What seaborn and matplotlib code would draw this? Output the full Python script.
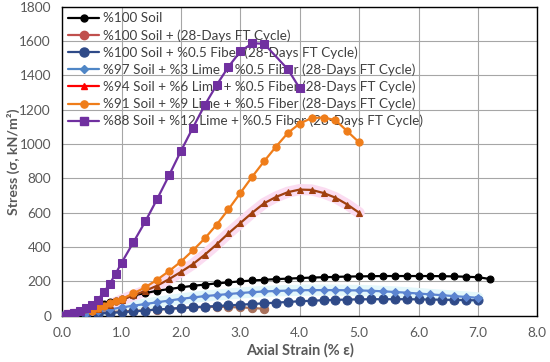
import matplotlib
matplotlib.use("Agg")
import matplotlib.pyplot as plt
import numpy as np
import pandas as pd
import seaborn as sns

# strain (%) / stress (kN/m2) per mixture
X_SOIL = [0.0, 0.1, 0.2, 0.3, 0.4, 0.5, 0.6, 0.7, 0.8, 0.9, 1.0, 1.2, 1.4, 1.6, 1.8, 2.0,
          2.2, 2.4, 2.6, 2.8, 3.0, 3.2, 3.4, 3.6, 3.8, 4.0, 4.2, 4.4, 4.6, 4.8, 5.0,
          5.2, 5.4, 5.6, 5.8, 6.0, 6.2, 6.4, 6.6, 6.8, 7.0, 7.2]
Y_SOIL = [0, 10, 18, 28, 38, 48, 58, 68, 78, 88, 97, 118, 132, 145, 155, 165,
          174, 181, 188, 194, 200, 205, 209, 213, 216, 219, 222, 224, 226, 228, 229,
          230, 231, 231, 231, 231, 231, 230, 229, 227, 224, 214]

X_FT = [0.0, 0.2, 0.4, 0.6, 0.8, 1.0, 1.2, 1.4, 1.6, 1.8, 2.0, 2.2, 2.4, 2.6, 2.8, 3.0, 3.2, 3.4]
Y_FT = [0, 6, 12, 17, 21, 25, 28, 31, 35, 40, 45, 48, 50, 52, 50, 48, 45, 40]

X_FIB = [0.0, 0.2, 0.4, 0.6, 0.8, 1.0, 1.2, 1.4, 1.6, 1.8, 2.0, 2.2, 2.4, 2.6, 2.8, 3.0,
         3.2, 3.4, 3.6, 3.8, 4.0, 4.2, 4.4, 4.6, 4.8, 5.0, 5.2, 5.4, 5.6, 5.8, 6.0,
         6.2, 6.4, 6.6, 6.8, 7.0]
Y_FIB = [0, 4, 8, 12, 16, 20, 25, 30, 36, 40, 45, 49, 53, 56, 60, 64,
         68, 72, 76, 80, 84, 87, 90, 92, 94, 95, 96, 96, 96, 96, 95,
         94, 93, 92, 91, 89]

X_L3 = [0.0, 0.2, 0.4, 0.6, 0.8, 1.0, 1.2, 1.4, 1.6, 1.8, 2.0, 2.2, 2.4, 2.6, 2.8, 3.0,
        3.2, 3.4, 3.6, 3.8, 4.0, 4.2, 4.4, 4.6, 4.8, 5.0, 5.2, 5.4, 5.6, 5.8, 6.0,
        6.2, 6.4, 6.6, 6.8, 7.0]
Y_L3 = [0, 8, 16, 26, 36, 48, 58, 68, 78, 88, 98, 106, 114, 120, 126, 132,
        137, 141, 144, 146, 148, 149, 149, 149, 148, 147, 145, 142, 138, 134, 129,
        124, 119, 114, 109, 104]

X_L6 = [0.0, 0.5, 0.6, 0.8, 1.0, 1.2, 1.4, 1.6, 1.8, 2.0, 2.2, 2.4, 2.6, 2.8, 3.0,
        3.2, 3.4, 3.6, 3.8, 4.0, 4.2, 4.4, 4.6, 4.8, 5.0]
Y_L6 = [0, 25, 40, 62, 92, 118, 145, 175, 213, 255, 300, 355, 415, 480, 540,
        600, 655, 692, 720, 735, 733, 715, 688, 648, 600]

X_L9 = [0.0, 0.5, 0.6, 0.7, 0.8, 0.9, 1.0, 1.2, 1.4, 1.6, 1.8, 2.0, 2.2, 2.4, 2.6, 2.8, 3.0,
        3.2, 3.4, 3.6, 3.8, 4.0, 4.2, 4.4, 4.6, 4.8, 5.0]
Y_L9 = [0, 28, 45, 58, 72, 85, 97, 130, 165, 210, 260, 315, 380, 450, 530, 620, 715,
        810, 900, 985, 1065, 1120, 1152, 1155, 1140, 1075, 1010]

X_L12 = [0.0, 0.1, 0.2, 0.3, 0.4, 0.5, 0.6, 0.7, 0.8, 0.9, 1.0, 1.2, 1.4, 1.6, 1.8, 2.0,
         2.2, 2.4, 2.6, 2.8, 3.0, 3.2, 3.4, 3.8, 4.0]
Y_L12 = [0, 8, 15, 25, 42, 62, 93, 136, 185, 244, 308, 428, 549, 680, 818, 960,
         1095, 1227, 1344, 1451, 1540, 1588, 1585, 1436, 1325]

LABELS = [
    "%100 Soil",
    "%100 Soil + (28-Days FT Cycle)",
    "%100 Soil + %0.5 Fiber (28-Days FT Cycle)",
    "%97 Soil + %3 Lime + %0.5 Fiber (28-Days FT Cycle)",
    "%94 Soil + %6 Lime + %0.5 Fiber (28-Days FT Cycle)",
    "%91 Soil + %9 Lime + %0.5 Fiber (28-Days FT Cycle)",
    "%88 Soil + %12 Lime + %0.5 Fiber (28-Days FT Cycle)",
]
SERIES = [(X_SOIL, Y_SOIL), (X_FT, Y_FT), (X_FIB, Y_FIB), (X_L3, Y_L3),
          (X_L6, Y_L6), (X_L9, Y_L9), (X_L12, Y_L12)]

# (line colour as drawn, legend colour, marker, marker size, faint halo or None)
STYLES = [
    ("black", "black", "o", 5, None),
    ("#a8705a", "#c0504d", "o", 6, None),
    ("#2f4a88", "#2f4a88", "o", 6.5, None),
    ("#5b84d0", "#4f86c6", "D", 4.2, "#e3f7fb"),
    ("#a0400f", "#ff0000", "^", 5, "#fbdcf1"),
    ("#ef7d1a", "#ef7d1a", "o", 5.2, None),
    ("#7030a0", "#7030a0", "s", 5.2, None),
]

df = pd.concat([pd.DataFrame({"strain": x, "stress": y, "mix": lab})
                for (x, y), lab in zip(SERIES, LABELS)], ignore_index=True)

sns.set_style("white")
plt.rcParams["font.family"] = ["Lato", "DejaVu Sans"]

fig, ax = plt.subplots(figsize=(5.5, 3.62), dpi=100)
fig.subplots_adjust(left=0.113, right=0.977, top=0.981, bottom=0.128)

handles = []
for lab, (lc, legc, mk, ms, halo) in zip(LABELS, STYLES):
    sub = df[df["mix"] == lab]
    if halo:
        ax.plot(sub["strain"], sub["stress"], color=halo, lw=8, zorder=2,
                solid_capstyle="round")
    sns.lineplot(sub, x="strain", y="stress", ax=ax, color=lc, marker=mk, markersize=ms,
                 markeredgecolor=lc, lw=1.6, sort=False, estimator=None, legend=False,
                 zorder=3)
    handles.append(plt.Line2D([], [], color=legc, marker=mk, markersize=ms, lw=1.6,
                              markeredgecolor=legc))

ax.set_xlim(0, 8)
ax.set_ylim(0, 1800)
ax.set_xticks(np.arange(0, 8.1, 1.0))
ax.set_xticklabels([f"{v:.1f}" for v in np.arange(0, 8.1, 1.0)])
ax.set_yticks(np.arange(0, 1801, 200))
ax.grid(True, color="#a6a6a6", lw=0.8)
for s in ax.spines.values():
    s.set_color("black")
    s.set_linewidth(1.0)
ax.tick_params(axis="both", length=0, labelsize=9.8, labelcolor="#595959", pad=8)
ax.set_xlabel("Axial Strain (% ε)", fontsize=10.5, fontweight="bold", color="#595959",
              labelpad=3)
ax.set_ylabel("Stress (σ, kN/m²)", fontsize=10.2, fontweight="bold", color="#595959")
ax.yaxis.set_label_coords(-0.089, 0.5)

leg = ax.legend(handles, LABELS, loc="upper left", bbox_to_anchor=(0.004, 0.995),
                fontsize=9.75, frameon=True, fancybox=False, framealpha=0,
                handlelength=2.3, handletextpad=0.25, labelspacing=0.34,
                borderpad=0.3, borderaxespad=0)
leg.get_frame().set_edgecolor("#8c8c8c")
leg.get_frame().set_linewidth(0.8)
leg.set_zorder(1)
for t in leg.get_texts():
    t.set_color("#404040")

fig.savefig("out.png", dpi=100)
